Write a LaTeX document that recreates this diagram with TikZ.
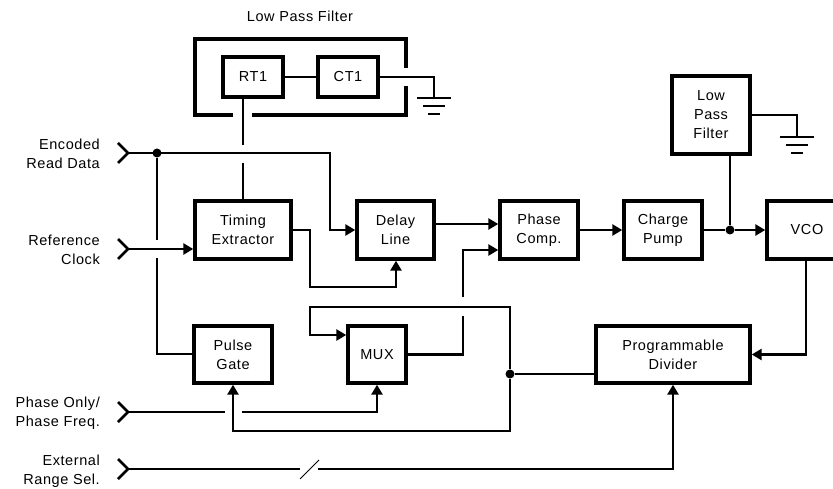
\documentclass[tikz,border=0pt]{standalone}
\usepackage{fontspec}
\setmainfont{Liberation Sans}[LetterSpace=4]
\usetikzlibrary{arrows.meta}
\newcommand\gndsym[1]{%
  \draw[wire] ([xshift=-17pt]#1) -- ([xshift=17pt]#1);
  \draw[wire] ([shift={(-11pt,-8pt)}]#1) -- ([shift={(11pt,-8pt)}]#1);
  \draw[wire] ([shift={(-6pt,-16pt)}]#1) -- ([shift={(6pt,-16pt)}]#1);}
\begin{document}
\begin{tikzpicture}[x=1pt,y=-1pt,
  blk/.style={draw,line width=3.4pt,inner sep=0pt,align=center,font=\fontsize{14.5}{19}\selectfont},
  wire/.style={line width=2.5pt},
  thickw/.style={line width=3.4pt},
  arr/.style={wire,-{Triangle[length=10pt,width=11pt]}},
  lbl/.style={align=right,anchor=east,inner sep=0pt,font=\fontsize{14.5}{19}\selectfont},
  jdot/.style={circle,fill,inner sep=0pt,minimum size=9pt},
]
\useasboundingbox (0,0) rectangle (833,489);

% title
\node[font=\fontsize{14.5}{19}\selectfont] (title) at (300,16) {Low Pass Filter};

% blocks
\node[blk,minimum width=60pt,minimum height=40pt] (rt1) at (253,77) {RT1};
\node[blk,minimum width=60pt,minimum height=40pt] (ct1) at (348,77) {CT1};
\node[blk,minimum width=96pt,minimum height=58pt] (te) at (243,230) {Timing\\Extractor};
\node[blk,minimum width=77pt,minimum height=58pt] (dl) at (395.5,230) {Delay\\Line};
\node[blk,minimum width=78pt,minimum height=58pt] (pc) at (539,230) {Phase\\Comp.};
\node[blk,minimum width=78pt,minimum height=58pt] (cp) at (663,230) {Charge\\Pump};
\node[blk,minimum width=80pt,minimum height=58pt] (vco) at (807,230) {VCO};
\node[blk,minimum width=78pt,minimum height=78pt] (lpf) at (711,115) {Low\\Pass\\Filter};
\node[blk,minimum width=78pt,minimum height=57pt] (pg) at (233,354.5) {Pulse\\Gate};
\node[blk,minimum width=58pt,minimum height=57pt] (mux) at (377,354.5) {MUX};
\node[blk,minimum width=154pt,minimum height=57pt] (pd) at (673,354.5) {Programmable\\Divider};

% outer low pass filter frame
\draw[thickw] (233,115) -- (195,115) -- (195,39) -- (406,39) -- (406,68);
\draw[thickw] (406,86) -- (406,115) -- (252,115);

% input labels and chevrons
\node[lbl] (l1) at (100,154) {Encoded\\Read Data};
\node[lbl] (l2) at (100,250) {Reference\\Clock};
\node[lbl] (l3) at (100,413) {Phase Only/\\Phase Freq.};
\node[lbl] (l4) at (100,471) {External\\Range Sel.};
\coordinate (in1) at (128,153);
\coordinate (in2) at (128,249);
\coordinate (in3) at (128,412);
\coordinate (in4) at (128,469);
\foreach \c in {in1,in2,in3,in4}
  \draw[wire] ([shift={(-10pt,10pt)}]\c) -- (\c) -- ([shift={(-10pt,-10pt)}]\c);

% junction dots
\node[jdot] (j1) at (157,153) {};
\node[jdot] (j2) at (510,374) {};
\node[jdot] (j3) at (730,230) {};

% connectors
\draw[arr] (in1) -- (330,153) |- (dl.west);
\draw[wire] (j1) -- (157,240);
\draw[wire] (157,258) |- (pg.west |- 0,354);
\draw[arr] (in2) -- (in2 -| te.west);
\draw[wire] (rt1.south -| 243,0) -- (243,145);
\draw[wire] (243,163) -- (te.north -| 243,0);
\draw[wire] (rt1) -- (ct1);
\coordinate (g1) at (434,98);
\draw[wire] (ct1.east) -| (g1);
\gndsym{g1}
\draw[arr] (te.east) -- (310,230) -- (310,287) -| (dl.south -| 396,0);
\draw[arr] (dl.east |- 0,224) -- (pc.west |- 0,224);
\draw[wire] (mux.east) -- (463,354.5) -- (463,316);
\draw[arr] (463,297) |- (pc.west |- 0,250);
\draw[arr] (j2) -- (510,307) -- (310,307) |- (mux.west |- 0,335);
\draw[arr] (j2) |- (233,431) -- (pg.south);
\draw[wire] (j2) -- (pd.west |- j2);
\draw[wire] (in3) -- (225,412);
\draw[arr] (242,412) -| (mux.south);
\draw[wire] (in4) -- (300,469);
\draw[arr] (318,469) -| (pd.south);
\draw[line width=0.8pt] (300,479) -- (319,460);
\draw[arr] (pc.east) -- (cp.west);
\draw[wire] (cp.east) -- (j3);
\draw[arr] (j3) -- (vco.west);
\draw[wire] (j3) -- (lpf.south -| j3);
\coordinate (g2) at (797,137);
\draw[wire] (lpf.east) -| (g2);
\gndsym{g2}
\draw[arr] (vco.south -| 806,0) |- (pd.east);
\end{tikzpicture}
\end{document}
